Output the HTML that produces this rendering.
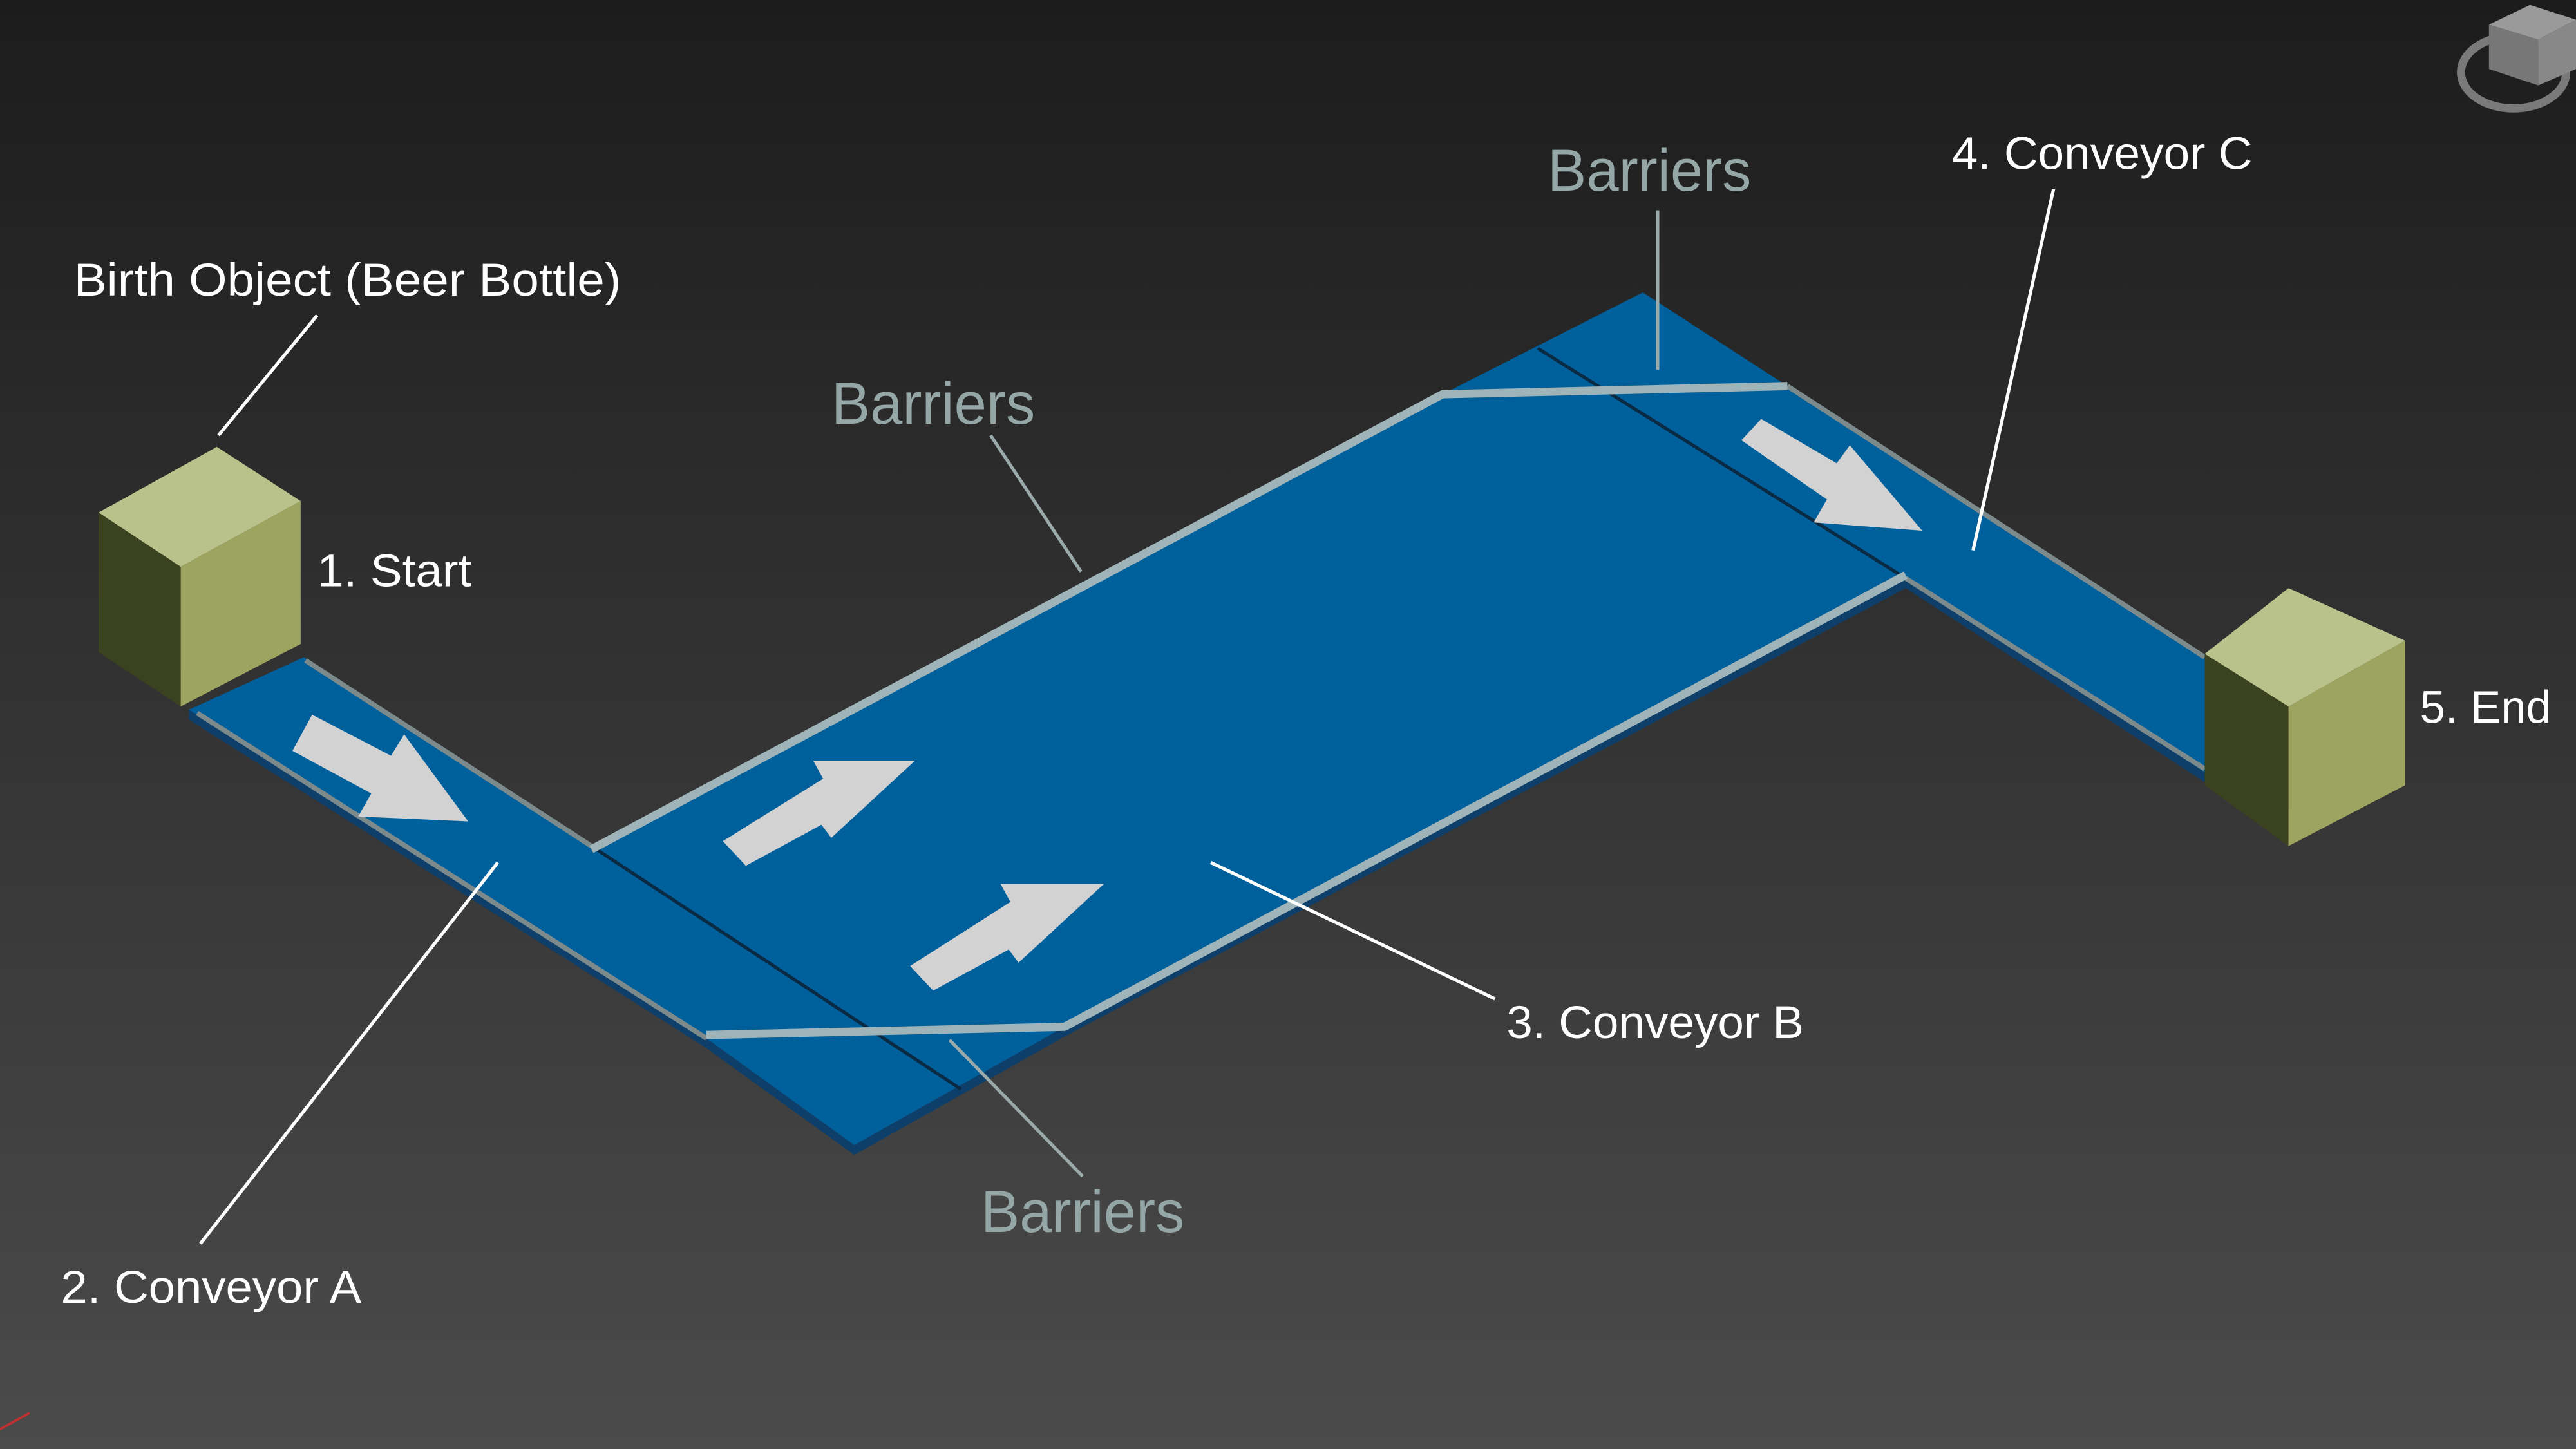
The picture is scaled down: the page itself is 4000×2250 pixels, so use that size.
<!DOCTYPE html>
<html><head><meta charset="utf-8"><style>
html,body{margin:0;padding:0;width:4000px;height:2250px;overflow:hidden;background:#333}
svg{display:block}
text{font-family:"Liberation Sans",sans-serif}
</style></head><body>
<svg width="4000" height="2250" viewBox="0 0 1568 882" xmlns="http://www.w3.org/2000/svg">
<defs>
<linearGradient id="bg" x1="0" y1="0" x2="0" y2="1">
<stop offset="0" stop-color="#1c1c1c"/><stop offset="1" stop-color="#4b4b4b"/>
</linearGradient>
</defs>
<rect width="1568" height="882" fill="url(#bg)"/>
<polygon points="115,432 430,632 520,697 648,625 1160,352 1342,470 1342,476 1160,358 648,631 520,703 430,638 115,438" fill="#0d3f6a"/>
<polygon points="115,432 185,400 360,515 878,240 1000,178 1088,235 1342,400 1342,470 1160,352 648,625 520,697 430,632" fill="#00609c"/>
<line x1="936" y1="212" x2="1160" y2="352" stroke="#0a2a44" stroke-width="2"/>
<line x1="360" y1="515" x2="585" y2="663" stroke="#0a2a44" stroke-width="2"/>
<polyline points="186,402 360,515" fill="none" stroke="#7c8a8c" stroke-width="3"/>
<polyline points="120,434 430,632" fill="none" stroke="#7c8a8c" stroke-width="3"/>
<polyline points="1088,235 1342,400" fill="none" stroke="#7c8a8c" stroke-width="3"/>
<polyline points="1160,352 1342,468" fill="none" stroke="#7c8a8c" stroke-width="3"/>
<polyline points="360,517 878,240 1088,235" fill="none" stroke="#9fb4b8" stroke-width="5" stroke-linejoin="round"/>
<polyline points="430,630 648,625 1160,350" fill="none" stroke="#9fb4b8" stroke-width="5" stroke-linejoin="round"/>
<g fill="#d2d2d2">
<polygon points="178,457 190,435 238,460 246,447 285,500 218,497 226,483"/>
<polygon points="440,512 454,527 500,502 506,510 557,463 495,463 501,474"/>
<polygon points="554,588 568,603 614,578 620,586 672,538 609,538 615,549"/>
<polygon points="1060,268 1072,255 1118,282 1126,271 1170,323 1104,318 1112,304"/>
</g>
<polygon points="60,312 132,272 183,305 110,345" fill="#b9c28a"/>
<polygon points="60,312 110,345 110,430 60,397" fill="#3b4220"/>
<polygon points="110,345 183,305 183,392 110,430" fill="#9da45f"/>
<polygon points="1342,398 1393,358 1464,390 1393,430" fill="#b9c28a"/>
<polygon points="1342,398 1393,430 1393,515 1342,478" fill="#3b4220"/>
<polygon points="1393,430 1464,390 1464,478 1393,515" fill="#9da45f"/>
<ellipse cx="1530" cy="44" rx="32" ry="22" fill="none" stroke="#7a7a7a" stroke-width="5"/>
<polygon points="1515,15 1540,3 1568,12 1545,24" fill="#9a9a9a"/>
<polygon points="1515,15 1545,24 1545,52 1515,42" fill="#777"/>
<polygon points="1545,24 1568,12 1568,42 1545,52" fill="#888"/>
<g stroke="#ffffff" stroke-width="2">
<line x1="133" y1="265" x2="193" y2="192"/>
<line x1="122" y1="757" x2="303" y2="525"/>
<line x1="910" y1="608" x2="737" y2="525"/>
<line x1="1201" y1="335" x2="1250" y2="115"/>
</g>
<g stroke="#9aaaaa" stroke-width="2">
<line x1="603" y1="265" x2="658" y2="348"/>
<line x1="1009" y1="128" x2="1009" y2="225"/>
<line x1="659" y1="716" x2="578" y2="633"/>
</g>
<g fill="#ffffff" font-size="28">
<text x="45" y="180" textLength="333" lengthAdjust="spacingAndGlyphs">Birth Object (Beer Bottle)</text>
<text x="193" y="357" textLength="94" lengthAdjust="spacingAndGlyphs">1. Start</text>
<text x="37" y="793" textLength="183" lengthAdjust="spacingAndGlyphs">2. Conveyor A</text>
<text x="917" y="632" textLength="181" lengthAdjust="spacingAndGlyphs">3. Conveyor B</text>
<text x="1188" y="103" textLength="183" lengthAdjust="spacingAndGlyphs">4. Conveyor C</text>
<text x="1473" y="440" textLength="80" lengthAdjust="spacingAndGlyphs">5. End</text>
</g>
<g fill="#94a6a6" font-size="36">
<text x="506" y="258" textLength="124" lengthAdjust="spacingAndGlyphs">Barriers</text>
<text x="942" y="116" textLength="124" lengthAdjust="spacingAndGlyphs">Barriers</text>
<text x="597" y="750" textLength="124" lengthAdjust="spacingAndGlyphs">Barriers</text>
</g>
<line x1="0" y1="870" x2="18" y2="860" stroke="#c03030" stroke-width="1.5"/>
</svg>
</body></html>
